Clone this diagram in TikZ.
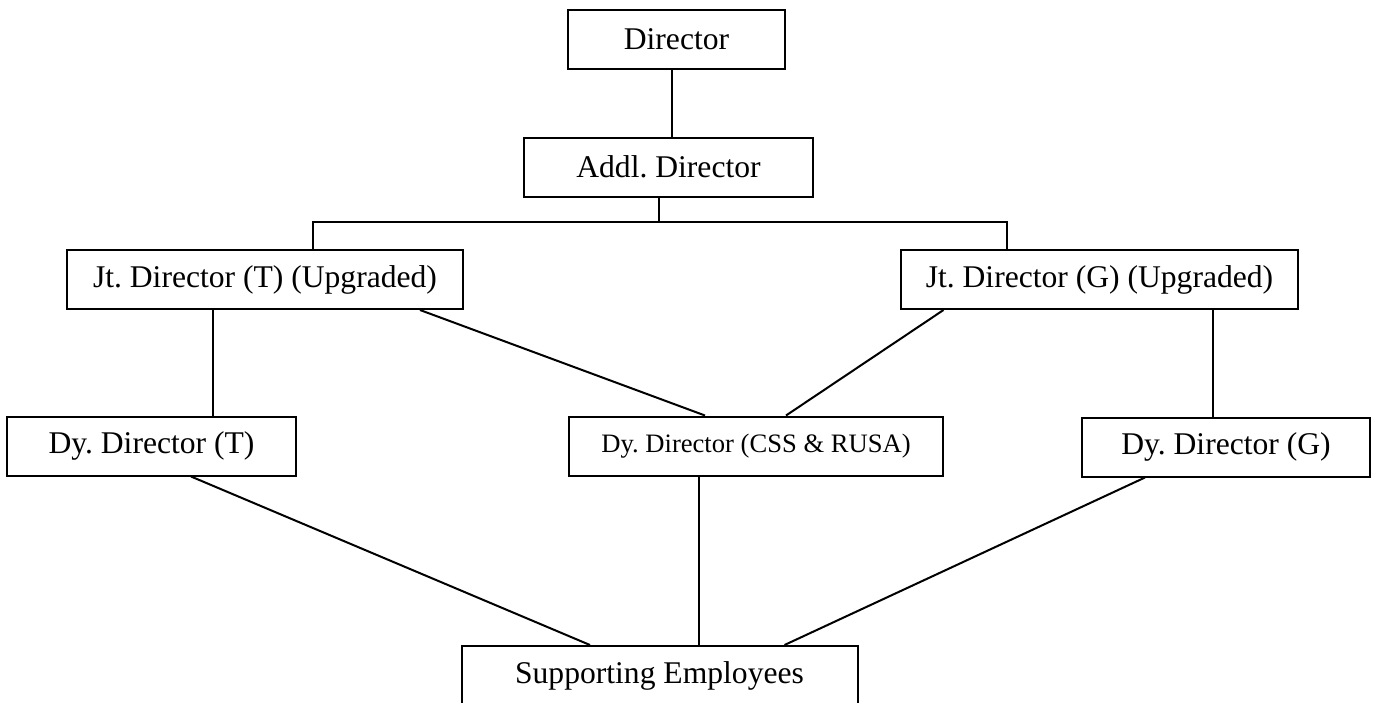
\documentclass[tikz,border=0pt]{standalone}
\usepackage{fontspec}
\setmainfont{Liberation Serif}
\frenchspacing
\begin{document}
\begin{tikzpicture}[x=1pt,y=-1pt,line width=2pt]

        \useasboundingbox (0,0) rectangle (1377,702);
        \clip (0,0) rectangle (1377,702);

        \begin{scope}[every node/.style={draw,rectangle,inner sep=0pt,minimum height=59pt,
            font=\fontsize{31.6}{38}\selectfont}]
          \node[minimum width=217pt] (dir)  at (676.5,39.5)  {Director};
          \node[minimum width=289pt] (addl) at (668.5,167)   {Addl. Director};
          \node[minimum width=396pt] (jtT)  at (265,279.5)   {Jt. Director (T) (Upgraded)};
          \node[minimum width=397pt] (jtG)  at (1099.5,279.5) {Jt. Director (G) (Upgraded)};
          \node[minimum width=289pt] (dyT)  at (151.5,446)   {Dy. Director (T)};
          \node[minimum width=374pt,font=\fontsize{26.6}{32}\selectfont]
                                     (dyC)  at (756,446)     {Dy. Director (CSS \& RUSA)};
          \node[minimum width=288pt] (dyG)  at (1226,447)    {Dy. Director (G)};
          \node[minimum width=396pt] (sup)  at (659.5,675.5) {Supporting Employees};
        \end{scope}

        \coordinate (bus) at (659,222);

        \begin{scope}[every edge/.style={draw}]
          \path ([xshift=-4.5pt]dir.south)  edge ([xshift=-4.5pt]dir.south |- addl.north);
          \path ([xshift=-9.5pt]addl.south) edge (bus);
          \draw ([xshift=48pt]jtT.north) |- (bus) -| ([xshift=-92.5pt]jtG.north);
          \path ([xshift=-52pt]jtT.south)   edge ([xshift=-52pt]jtT.south |- dyT.north);
          \path ([xshift=155pt]jtT.south)   edge ([xshift=-51pt]dyC.north);
          \path ([xshift=-156pt]jtG.south)  edge ([xshift=30pt]dyC.north);
          \path ([xshift=113.5pt]jtG.south) edge ([xshift=113.5pt]jtG.south |- dyG.north);
          \path ([xshift=39.5pt]dyT.south)  edge ([xshift=-69.5pt]sup.north);
          \path ([xshift=-57pt]dyC.south)   edge ([xshift=-57pt]dyC.south |- sup.north);
          \path ([xshift=-81pt]dyG.south)   edge ([xshift=125pt]sup.north);
        \end{scope}

      \end{tikzpicture}
\end{document}
